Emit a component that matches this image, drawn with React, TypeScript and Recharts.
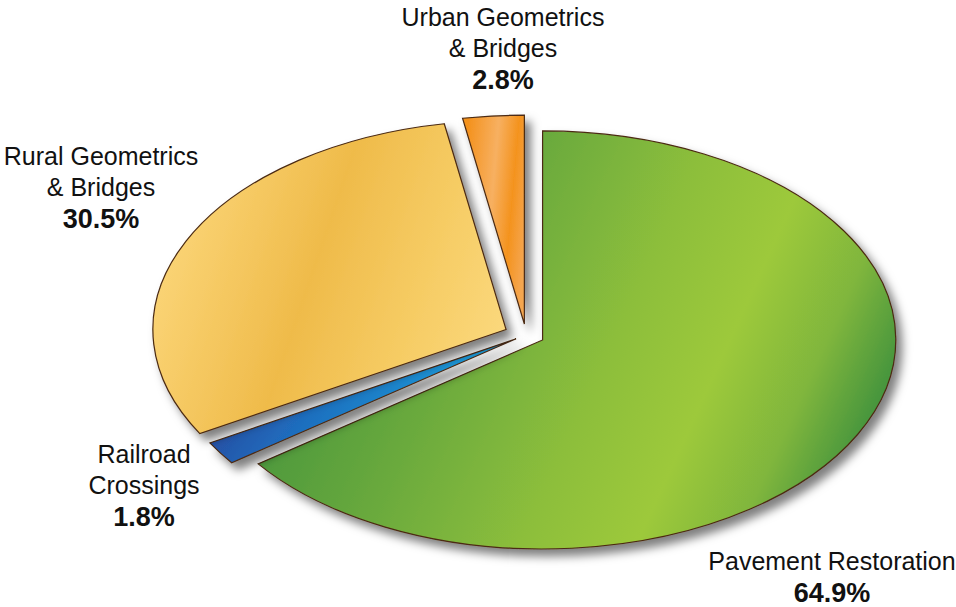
import { PieChart, Pie, Cell } from 'recharts'

// data
const CATEGORIES = ['Pavement Restoration', 'Railroad Crossings', 'Rural Geometrics & Bridges', 'Urban Geometrics & Bridges']
const SHARES = [64.9, 1.8, 30.5, 2.8]
const LABEL_LINES = [['Pavement Restoration'], ['Railroad', 'Crossings'], ['Rural Geometrics', '& Bridges'], ['Urban Geometrics', '& Bridges']]

const data = CATEGORIES.map((name, i) => ({ name, value: SHARES[i] }))

// look
const GRADIENTS = [
  [[0, '#3d8f3b'], [0.3, '#67a83e'], [0.55, '#8cbe3b'], [0.72, '#9dc93a'], [0.86, '#80b63c'], [1, '#3a8e3c']],
  [[0, '#2b3f95'], [0.35, '#1f6cbd'], [0.75, '#1b9ad8'], [1, '#1f7cc8']],
  [[0, '#fcd77b'], [0.45, '#efbb4a'], [0.75, '#f6cc64'], [1, '#fbd87c']],
  [[0, '#f4921e'], [0.45, '#f7b061'], [0.75, '#f4931e'], [1, '#f5a650']],
]
const EXPLODE = [11, 7, 13, 11]
const LABEL_POS = [[832, 570], [144, 463], [101, 165], [503, 26]]
const STRETCH = 1.69
const FONT = '"Liberation Sans", Arial, Helvetica, sans-serif'
const RAD = Math.PI / 180

function EllipseSlice(props: any) {
  const { cx, cy, outerRadius, startAngle, endAngle, fill } = props
  const i = props.index ?? CATEGORIES.indexOf(props.name)
  const mid = (startAngle + endAngle) / 2
  const k = EXPLODE[i] ?? 10
  const ox = cx + k * Math.cos(mid * RAD) * STRETCH
  const oy = cy - k * Math.sin(mid * RAD)
  const rx = outerRadius * STRETCH
  const ry = outerRadius
  const x0 = ox + rx * Math.cos(startAngle * RAD)
  const y0 = oy - ry * Math.sin(startAngle * RAD)
  const x1 = ox + rx * Math.cos(endAngle * RAD)
  const y1 = oy - ry * Math.sin(endAngle * RAD)
  const large = Math.abs(startAngle - endAngle) > 180 ? 1 : 0
  const sweep = startAngle > endAngle ? 1 : 0
  const d = `M${ox},${oy} L${x0},${y0} A${rx},${ry} 0 ${large} ${sweep} ${x1},${y1} Z`
  return <path d={d} fill={fill} stroke="#4b2a12" strokeWidth={1.2} strokeLinejoin="miter" filter="url(#dropShadow)" />
}

function SliceLabel(props: any) {
  const i = props.index
  const [x, y] = LABEL_POS[i]
  const lines = LABEL_LINES[i]
  return (
    <text x={x} y={y} textAnchor="middle" fontFamily={FONT} fill="#111">
      {lines.map((l, j) => (
        <tspan key={j} x={x} y={y + j * 31} fontSize={25}>{l}</tspan>
      ))}
      <tspan x={x} y={y + lines.length * 31 + 1} fontSize={27} fontWeight="bold">
        {SHARES[i].toFixed(1)}%
      </tspan>
    </text>
  )
}

export default function App() {
  return (
    <div style={{ position: 'absolute', left: 0, top: 0, background: '#fff' }}>
      <PieChart width={956} height={607} margin={{ top: 0, right: 0, bottom: 0, left: 0 }}>
        <defs>
          {GRADIENTS.map((stops, i) => (
            <linearGradient key={i} id={`grad${i}`} x1="0" y1="0.35" x2="1" y2="0.65">
              {stops.map(([o, c], j) => (
                <stop key={j} offset={o as number} stopColor={c as string} />
              ))}
            </linearGradient>
          ))}
          <filter id="dropShadow" x="-20%" y="-20%" width="150%" height="150%">
            <feDropShadow dx={6} dy={7} stdDeviation={5} floodColor="#000" floodOpacity={0.5} />
          </filter>
        </defs>
        <Pie
          data={data}
          dataKey="value"
          nameKey="name"
          cx={526}
          cy={335}
          innerRadius={0}
          outerRadius={209}
          startAngle={90}
          endAngle={-270}
          stroke="none"
          shape={EllipseSlice}
          label={SliceLabel}
          labelLine={false}
          isAnimationActive={false}
        >
          {data.map((d, i) => (
            <Cell key={d.name} fill={`url(#grad${i})`} />
          ))}
        </Pie>
      </PieChart>
    </div>
  )
}
